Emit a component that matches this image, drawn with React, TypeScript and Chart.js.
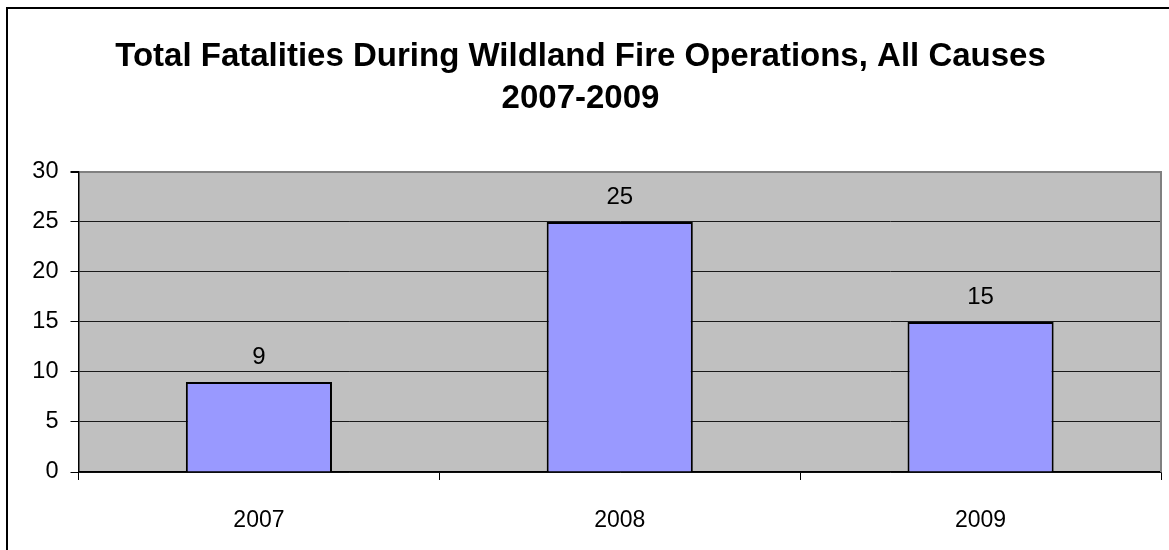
import React, { useEffect, useRef } from "react";
import { Chart, registerables } from "chart.js";

Chart.register(...registerables);

const titleLines = ["Total Fatalities During Wildland Fire Operations, All Causes", "2007-2009"];
const categories = ["2007", "2008", "2009"];
const fatalities = [9, 25, 15];
const yMin = 0;
const yMax = 30;
const yStep = 5;

const FONT = "'Liberation Sans', Arial, Helvetica, sans-serif";

const plotBg = {
  id: "plotBg",
  beforeDraw(chart: any) {
    const { ctx, chartArea } = chart;
    ctx.save();
    ctx.fillStyle = "#C0C0C0";
    ctx.fillRect(chartArea.left, chartArea.top, chartArea.right - chartArea.left, chartArea.bottom - chartArea.top);
    ctx.restore();
  },
  afterDatasetsDraw(chart: any) {
    const { ctx, chartArea } = chart;
    ctx.save();
    ctx.strokeStyle = "#808080";
    ctx.lineWidth = 2;
    ctx.beginPath();
    ctx.moveTo(chartArea.right, chartArea.top - 1);
    ctx.lineTo(chartArea.right, chartArea.bottom);
    ctx.stroke();
    // data labels
    const meta = chart.getDatasetMeta(0);
    const data = chart.data.datasets[0].data;
    ctx.fillStyle = "#000";
    ctx.font = `24px ${FONT}`;
    ctx.textAlign = "center";
    ctx.textBaseline = "alphabetic";
    meta.data.forEach((bar: any, i: number) => {
      ctx.fillText(String(data[i]), bar.x, bar.y - 17.5);
    });
    ctx.restore();
  },
};

export default function App() {
  const ref = useRef<HTMLCanvasElement>(null);
  useEffect(() => {
    if (!ref.current) return;
    const chart = new Chart(ref.current, {
      type: "bar",
      data: {
        labels: categories,
        datasets: [
          {
            data: fatalities,
            backgroundColor: "#9999FF",
            borderColor: "#000000",
            borderWidth: 2,
            barPercentage: 0.405,
            categoryPercentage: 1,
          },
        ],
      },
      options: {
        responsive: false,
        devicePixelRatio: 1,
        animation: false,
        layout: { padding: { left: 0, right: 8, top: 0, bottom: 0 } },
        plugins: {
          legend: { display: false },
          tooltip: { enabled: false },
          title: {
            display: true,
            text: titleLines,
            color: "#000",
            font: { family: FONT, size: 33, weight: "bold", lineHeight: 1.28 },
            padding: { top: 36, bottom: 51.5 },
          },
        },
        scales: {
          x: {
            grid: {
              drawOnChartArea: false,
              drawTicks: true,
              tickLength: 8,
              color: "#000",
              offset: true,
            },
            border: { color: "#000", width: 1.5 },
            ticks: { color: "#000", font: { family: FONT, size: 23 }, padding: 27 },
            afterFit: (s: any) => {
              s.height = 78;
            },
          },
          y: {
            min: yMin,
            max: yMax,
            ticks: { stepSize: yStep, color: "#000", font: { family: FONT, size: 23.5 }, padding: 12 },
            grid: {
              color: (c: any) => (c.tick && c.tick.value === yMax ? "#808080" : "#1a1a1a"),
              lineWidth: (c: any) => (c.tick && c.tick.value === yMax ? 2 : 1),
              tickColor: "#000",
              tickLength: 8,
            },
            border: { color: "#000", width: 1.5 },
            afterFit: (s: any) => {
              s.width = 78.5;
            },
          },
        },
      },
      plugins: [plotBg],
    } as any);
    return () => chart.destroy();
  }, []);
  return (
    <div style={{ position: "fixed", left: 0, top: 0, width: 1169, height: 550, overflow: "hidden", background: "#fff" }}>
      <canvas ref={ref} width={1169} height={550} style={{ position: "absolute", left: 0, top: 0, width: 1169, height: 550 }} />
      <div
        style={{
          position: "absolute",
          left: 6,
          top: 7,
          width: 1300,
          height: 700,
          borderTop: "2px solid #000",
          borderLeft: "2px solid #000",
          pointerEvents: "none",
        }}
      />
    </div>
  );
}
